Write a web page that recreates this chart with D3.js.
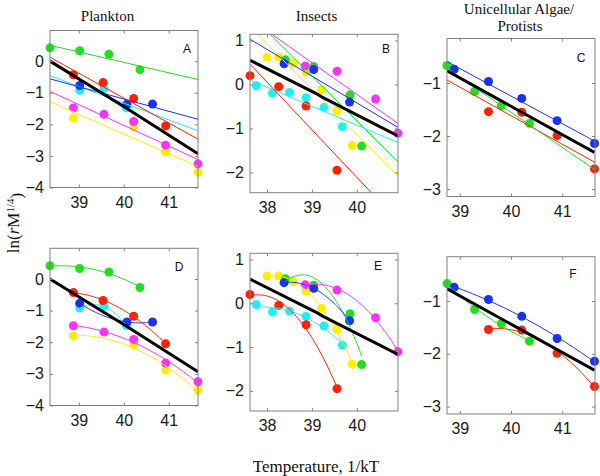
<!DOCTYPE html>
<html><head><meta charset="utf-8">
<script src="https://cdn.jsdelivr.net/npm/d3@7"></script>
<style>body{margin:0;background:#fff}svg{display:block}</style>
</head><body>
<svg id="chart" width="600" height="476"></svg>
<script>
// ---------------- data ----------------
const groupTitles = ["Plankton", "Insects", "Unicellular Algae/", "Protists"];
const panelLetters = ["A", "B", "C", "D", "E", "F"];
const xLabel = "Temperature, 1/kT";

const planktonXTicks = [39, 40, 41];
const planktonYTicks = [0, -1, -2, -3, -4];
const planktonXDomain = [38.36, 41.65];
const planktonYDomain = [-4, 0.97];

const insectsXTicks = [38, 39, 40];
const insectsYTicks = [1, 0, -1, -2];
const insectsXDomain = [37.62, 40.92];
const insectsYDomain = [-2.46, 1.14];

const algaeXTicks = [39, 40, 41];
const algaeYTicks = [-1, -2, -3];
const algaeXDomain = [38.75, 41.64];
const algaeYDomain = [-3.14, -0.16];

// plankton series [1/kT, ln(rM^1/4)]
const planktonYellow  = [[38.88,-1.80],[40.22,-2.08],[40.93,-2.88],[41.65,-3.52]];
const planktonMagenta = [[38.88,-1.48],[39.56,-1.68],[40.22,-1.91],[40.93,-2.66],[41.65,-3.25]];
const planktonCyan    = [[39.02,-0.92],[39.56,-0.87],[40.06,-1.48]];
const planktonBlue    = [[39.02,-0.77],[40.07,-1.36],[40.64,-1.36]];
const planktonRed     = [[38.88,-0.43],[39.54,-0.68],[40.22,-1.18],[40.93,-2.05]];
const planktonGreen   = [[38.36,0.42],[39.02,0.33],[39.67,0.22],[40.36,-0.27]];
const planktonTrend   = [[38.36,0.00],[40.07,-1.50],[41.65,-2.93]];

// insects series
const insectsYellow  = [[38.00,0.62],[38.26,0.62],[38.58,0.49],[38.87,0.28],[39.22,-0.12],[39.56,-0.60],[39.90,-1.39]];
const insectsGreen   = [[38.41,0.56],[39.04,0.41],[39.85,-0.24],[40.11,-1.40]];
const insectsBlue    = [[38.38,0.47],[39.04,0.34],[39.84,-0.40]];
const insectsMagenta = [[38.85,0.42],[39.56,0.30],[40.42,-0.33],[40.92,-1.11]];
const insectsCyan    = [[37.76,-0.03],[38.12,-0.20],[38.50,-0.18],[38.87,-0.30],[39.27,-0.52],[39.68,-0.96]];
const insectsRed     = [[37.62,0.20],[38.26,-0.05],[38.87,-0.49],[39.56,-1.95]];
const insectsTrend   = [[37.62,0.55],[39.12,-0.22],[39.25,-0.30],[40.92,-1.17]];

// unicellular algae / protists series
const algaeRed   = [[39.56,-1.54],[40.21,-1.55],[40.90,-1.99],[41.63,-2.62]];
const algaeGreen = [[38.75,-0.67],[39.29,-1.16],[39.81,-1.43],[40.36,-1.76]];
const algaeBlue  = [[38.89,-0.74],[39.56,-0.97],[40.21,-1.29],[40.90,-1.71],[41.63,-2.14]];
const algaeTrend = [[38.75,-0.77],[41.63,-2.31]];

// ---------------- styles ----------------
const COL = {
  green: "#22dd22", red: "#ff2200", blue: "#1a33f0",
  cyan: "#22eeff", magenta: "#ff33ff", yellow: "#ffee00"
};

const planktonSeries = [
  {c: COL.yellow, d: planktonYellow}, {c: COL.magenta, d: planktonMagenta},
  {c: COL.cyan, d: planktonCyan}, {c: COL.blue, d: planktonBlue},
  {c: COL.red, d: planktonRed}, {c: COL.green, d: planktonGreen}
];
const insectsSeries = [
  {c: COL.yellow, d: insectsYellow}, {c: COL.green, d: insectsGreen},
  {c: COL.blue, d: insectsBlue}, {c: COL.magenta, d: insectsMagenta},
  {c: COL.cyan, d: insectsCyan}, {c: COL.red, d: insectsRed}
];
const algaeSeries = [
  {c: COL.red, d: algaeRed}, {c: COL.green, d: algaeGreen}, {c: COL.blue, d: algaeBlue}
];

const panels = [
  {L:"A", box:[50,30.5,198,187.5], s:planktonSeries, t:planktonTrend, xd:planktonXDomain, yd:planktonYDomain, xt:planktonXTicks, yt:planktonYTicks, fit:"lin", lp:[187,53]},
  {L:"B", box:[250,34.3,398,192.7], s:insectsSeries, t:insectsTrend, xd:insectsXDomain, yd:insectsYDomain, xt:insectsXTicks, yt:insectsYTicks, fit:"lin", lp:[386,53]},
  {L:"C", box:[447,38.5,595,196.5], s:algaeSeries, t:algaeTrend, xd:algaeXDomain, yd:algaeYDomain, xt:algaeXTicks, yt:algaeYTicks, fit:"lin", lp:[581,62]},
  {L:"D", box:[50,248.3,198,405.5], s:planktonSeries, t:planktonTrend, xd:planktonXDomain, yd:planktonYDomain, xt:planktonXTicks, yt:planktonYTicks, fit:"quad", lp:[179,271]},
  {L:"E", box:[250,253.3,398,411], s:insectsSeries, t:insectsTrend, xd:insectsXDomain, yd:insectsYDomain, xt:insectsXTicks, yt:insectsYTicks, fit:"quad", lp:[378,270]},
  {L:"F", box:[447,256.7,595,414], s:algaeSeries, t:algaeTrend, xd:algaeXDomain, yd:algaeYDomain, xt:algaeXTicks, yt:algaeYTicks, fit:"quad", lp:[573,278]}
];

// ---------------- fits ----------------
function linFit(pts) {
  const mx = d3.mean(pts, p => p[0]), my = d3.mean(pts, p => p[1]);
  let sxy = 0, sxx = 0;
  pts.forEach(([x, y]) => { sxy += (x - mx) * (y - my); sxx += (x - mx) * (x - mx); });
  const b = sxy / sxx;
  return x => my + b * (x - mx);
}
function quadFit(pts) {
  const mx = d3.mean(pts, p => p[0]);
  const S = [0,0,0,0,0], T = [0,0,0];
  pts.forEach(([x, y]) => {
    const u = x - mx; let p = 1;
    for (let k = 0; k < 5; k++) { S[k] += p; if (k < 3) T[k] += p * y; p *= u; }
  });
  const M = [[S[0],S[1],S[2],T[0]],[S[1],S[2],S[3],T[1]],[S[2],S[3],S[4],T[2]]];
  for (let i = 0; i < 3; i++) {
    for (let j = i + 1; j < 3; j++) {
      const f = M[j][i] / M[i][i];
      for (let k = i; k < 4; k++) M[j][k] -= f * M[i][k];
    }
  }
  const c = [0,0,0];
  for (let i = 2; i >= 0; i--) {
    let s = M[i][3];
    for (let k = i + 1; k < 3; k++) s -= M[i][k] * c[k];
    c[i] = s / M[i][i];
  }
  return x => { const u = x - mx; return c[0] + c[1] * u + c[2] * u * u; };
}

// ---------------- drawing ----------------
const svg = d3.select("#chart");
const sans = "'Liberation Sans', Arial, Helvetica, sans-serif";
const serif = "'Liberation Serif', 'Times New Roman', Times, serif";
const intFmt = d3.format("d");

panels.forEach((P, i) => {
  const [x0, y0, x1, y1] = P.box;
  const x = d3.scaleLinear().domain(P.xd).range([x0, x1]);
  const y = d3.scaleLinear().domain(P.yd).range([y1, y0]);
  const clipId = "clip" + i;
  svg.append("clipPath").attr("id", clipId)
    .append("rect").attr("x", x0).attr("y", y0).attr("width", x1 - x0).attr("height", y1 - y0);
  const g = svg.append("g");

  // points
  P.s.forEach(s => {
    g.selectAll(null).data(s.d).enter().append("circle")
      .attr("cx", d => x(d[0])).attr("cy", d => y(d[1])).attr("r", 4.5)
      .attr("fill", s.c);
  });

  // fitted lines / curves
  const fg = g.append("g").attr("clip-path", `url(#${clipId})`);
  P.s.forEach(s => {
    let xs, f;
    if (P.fit === "lin") {
      f = linFit(s.d);
      xs = [P.xd[0], P.xd[1]];
    } else {
      f = quadFit(s.d);
      const ext = d3.extent(s.d, d => d[0]);
      xs = d3.range(0, 61).map(k => ext[0] + (ext[1] - ext[0]) * k / 60);
    }
    fg.append("path")
      .attr("d", d3.line().x(v => x(v)).y(v => y(f(v)))(xs))
      .attr("fill", "none").attr("stroke", s.c).attr("stroke-width", 1);
  });
  fg.append("path")
    .attr("d", d3.line().x(d => x(d[0])).y(d => y(d[1]))(P.t))
    .attr("fill", "none").attr("stroke", "#000").attr("stroke-width", 3)
    .attr("stroke-linejoin", "round");

  // axes (ticks inside on all four sides)
  const axB = d3.axisBottom(x).tickValues(P.xt).tickFormat(intFmt).tickSize(-3).tickSizeOuter(0).tickPadding(8.8);
  const axT = d3.axisTop(x).tickValues(P.xt).tickSize(-3).tickSizeOuter(0).tickFormat("");
  const axL = d3.axisLeft(y).tickValues(P.yt).tickFormat(intFmt).tickSize(-3).tickSizeOuter(0).tickPadding(6);
  const axR = d3.axisRight(y).tickValues(P.yt).tickSize(-3).tickSizeOuter(0).tickFormat("");
  const styleAxis = sel => {
    sel.select(".domain").remove();
    sel.selectAll(".tick line").attr("stroke", "#808080");
    sel.selectAll(".tick text").attr("fill", "#1a1a1a").style("font-family", sans).style("font-size", "16px");
  };
  g.append("g").attr("transform", `translate(0,${y1})`).call(axB).call(styleAxis);
  g.append("g").attr("transform", `translate(0,${y0})`).call(axT).call(styleAxis);
  g.append("g").attr("transform", `translate(${x0},0)`).call(axL).call(styleAxis);
  g.append("g").attr("transform", `translate(${x1},0)`).call(axR).call(styleAxis);

  g.append("rect").attr("x", x0).attr("y", y0).attr("width", x1 - x0).attr("height", y1 - y0)
    .attr("fill", "none").attr("stroke", "#808080").attr("stroke-width", 1);

  g.append("text").attr("x", P.lp[0]).attr("y", P.lp[1]).attr("text-anchor", "middle")
    .style("font-family", sans).style("font-size", "12px").attr("fill", "#111")
    .text(P.L);
});

// group titles
const titleSpec = [[107.5, 20.5], [316.5, 20.5], [519, 14], [520, 30.5]];
groupTitles.forEach((t, i) => {
  svg.append("text").attr("x", titleSpec[i][0]).attr("y", titleSpec[i][1])
    .attr("text-anchor", "middle").style("font-family", serif).style("font-size", "15px")
    .attr("fill", "#111").text(t);
});

// axis labels
svg.append("text").attr("x", 316).attr("y", 472).attr("text-anchor", "middle")
  .style("font-family", serif).style("font-size", "17px").attr("fill", "#111").text(xLabel);

const yl = svg.append("text").attr("transform", "translate(19,223) rotate(-90)")
  .attr("text-anchor", "middle").style("font-family", serif).style("font-size", "17px").attr("fill", "#111");
yl.append("tspan").text("ln(");
yl.append("tspan").style("font-style", "italic").text("r");
yl.append("tspan").text("M");
yl.append("tspan").attr("dy", "-0.45em").style("font-size", "11px").text("1/4");
yl.append("tspan").attr("dy", "0.45em").text(")");
</script>
</body></html>
